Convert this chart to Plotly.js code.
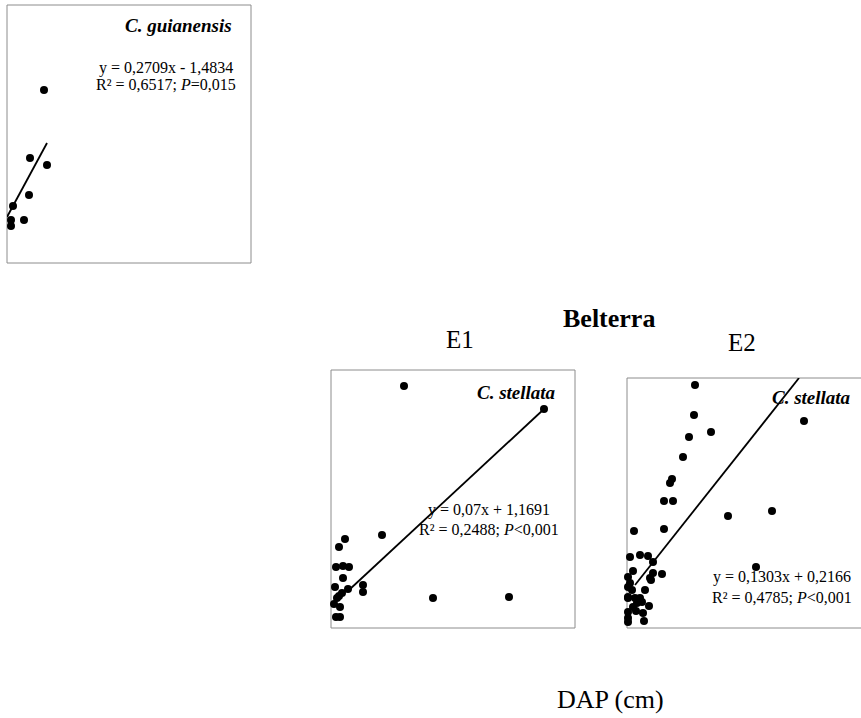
<!DOCTYPE html>
<html>
<head>
<meta charset="utf-8">
<script src="https://cdn.plot.ly/plotly-3.0.1.min.js"></script>
<style>html,body{margin:0;padding:0;background:#fff;}#chart{width:861px;height:718px;}</style>
</head>
<body>
<div id="chart"></div>
<script>
// Panel 1: C. guianensis (DAP cm vs response, arbitrary read units)
const guiX = [7.4, 4.6, 8.0, 4.4, 1.2, 3.4, 0.8, 0.8];
const guiY = [17.3, 10.5, 9.8, 6.8, 5.7, 4.3, 4.3, 3.7];
const guiTrendX = [0.0, 8.0];
const guiTrendY = [4.6, 12.0];

// Belterra E1: C. stellata
const e1X = [14.6, 42.6, 10.2, 2.8, 1.6, 1.0, 2.4, 3.6, 2.4, 6.4, 6.4, 0.8, 3.4, 2.2, 1.6, 1.2, 0.6, 1.8, 1.0, 1.8, 20.4, 35.6];
const e1Y = [24.2, 21.9, 9.3, 8.9, 8.1, 6.1, 6.2, 6.1, 5.0, 4.3, 3.6, 4.1, 3.9, 3.5, 3.2, 3.0, 2.4, 2.1, 1.1, 1.1, 3.0, 3.1];
const e1TrendX = [3.6, 42.6];
const e1TrendY = [3.8, 21.9];

// Belterra E2: C. stellata
const e2X = [13.6, 13.4, 16.8, 12.4, 35.4, 11.2, 9.0, 8.6, 7.4, 9.2, 7.4, 1.4, 20.2, 29.0, 25.8,
             0.6, 2.6, 4.2, 5.2, 7.0, 1.2, 5.2, 4.6, 4.8, 0.6, 0.2, 1.0, 3.6, 0.2, 1.6, 2.6, 3.0,
             0.2, 2.0, 4.4, 0.2, 1.8, 3.2, 0.2, 0.2, 3.4, 1.2, 0.2];
const e2Y = [24.3, 21.3, 19.6, 19.1, 20.7, 17.1, 14.9, 14.5, 12.7, 12.7, 9.9, 9.7, 11.2, 11.7, 6.1,
             7.1, 7.3, 7.2, 6.6, 5.4, 5.7, 5.5, 5.0, 4.8, 4.5, 4.1, 3.8, 3.8, 3.1, 3.0, 3.0, 2.6,
             3.0, 2.5, 2.2, 1.6, 1.7, 1.5, 1.0, 0.6, 0.7, 2.1, 5.1];
const e2TrendX = [1.6, 34.4];
const e2TrendY = [4.3, 25.0];

// Texts
const species1 = "C. guianensis";
const species2 = "C. stellata";
const eq1 = ["y = 0,2709x - 1,4834", "R² = 0,6517; <i>P</i>=0,015"];
const eqE1 = ["y = 0,07x + 1,1691", "R² = 0,2488; <i>P</i>&lt;0,001"];
const eqE2 = ["y = 0,1303x + 0,2166", "R² = 0,4785; <i>P</i>&lt;0,001"];
const siteTitle = "Belterra";
const panelLabels = ["E1", "E2"];
const xTitle = "DAP (cm)";

const W = 861, H = 718;
const px = v => v / W;
const py = v => 1 - v / H;
const FONT = "Liberation Serif, Times New Roman, serif";

const markerStyle = {color: "#000", size: 8};
const lineStyle = {color: "#000", width: 1.8};

const traces = [
  {x: guiX, y: guiY, mode: "markers", marker: markerStyle, xaxis: "x", yaxis: "y", cliponaxis: false},
  {x: guiTrendX, y: guiTrendY, mode: "lines", line: lineStyle, xaxis: "x", yaxis: "y"},
  {x: e1X, y: e1Y, mode: "markers", marker: markerStyle, xaxis: "x2", yaxis: "y2", cliponaxis: false},
  {x: e1TrendX, y: e1TrendY, mode: "lines", line: lineStyle, xaxis: "x2", yaxis: "y2"},
  {x: e2X, y: e2Y, mode: "markers", marker: markerStyle, xaxis: "x3", yaxis: "y3", cliponaxis: false},
  {x: e2TrendX, y: e2TrendY, mode: "lines", line: lineStyle, xaxis: "x3", yaxis: "y3"}
];

const hidden = {showline: false, showgrid: false, zeroline: false, showticklabels: false, ticks: ""};

function ann(text, x, y, xanchor, size, extra) {
  return Object.assign({text: text, x: px(x), y: py(y), xref: "paper", yref: "paper",
    xanchor: xanchor, yanchor: "middle", showarrow: false,
    font: {family: FONT, size: size, color: "#000"}}, extra || {});
}

const boxLine = {color: "#8c8c8c", width: 1};

const layout = {
  width: W, height: H,
  margin: {l: 0, r: 0, t: 0, b: 0},
  paper_bgcolor: "#fff", plot_bgcolor: "rgba(0,0,0,0)",
  showlegend: false,
  xaxis: Object.assign({domain: [px(7), px(251)], range: [0, 48.8]}, hidden),
  yaxis: Object.assign({domain: [py(263), py(5)], range: [0, 25.8]}, hidden),
  xaxis2: Object.assign({domain: [px(331), px(575)], range: [0, 48.8], anchor: "y2"}, hidden),
  yaxis2: Object.assign({domain: [py(628), py(370)], range: [0, 25.8], anchor: "x2"}, hidden),
  xaxis3: Object.assign({domain: [px(627), 1], range: [0, 46.8], anchor: "y3"}, hidden),
  yaxis3: Object.assign({domain: [py(628), py(378)], range: [0, 25.0], anchor: "x3"}, hidden),
  shapes: [
    {type: "rect", xref: "paper", yref: "paper", x0: px(7), x1: px(251), y0: py(263), y1: py(5), line: boxLine, layer: "below"},
    {type: "rect", xref: "paper", yref: "paper", x0: px(331), x1: px(575), y0: py(628), y1: py(370), line: boxLine, layer: "below"},
    {type: "rect", xref: "paper", yref: "paper", x0: px(627), x1: px(880), y0: py(628), y1: py(378), line: boxLine, layer: "below"}
  ],
  annotations: [
    ann("<b><i>" + species1 + "</i></b>", 234, 25, "right", 19),
    ann(eq1[0], 166, 68, "center", 16),
    ann(eq1[1], 166, 84, "center", 16),
    ann("<b>" + siteTitle + "</b>", 609, 318, "center", 26),
    ann(panelLabels[0], 460, 340, "center", 25),
    ann(panelLabels[1], 742, 342, "center", 25),
    ann("<b><i>" + species2 + "</i></b>", 558, 392, "right", 19),
    ann(eqE1[0], 489, 510, "center", 16),
    ann(eqE1[1], 489, 529, "center", 16),
    ann("<b><i>" + species2 + "</i></b>", 853, 398, "right", 19),
    ann(eqE2[0], 782, 577, "center", 16),
    ann(eqE2[1], 782, 597, "center", 16),
    ann(xTitle, 610, 699, "center", 26)
  ]
};

Plotly.newPlot("chart", traces, layout, {staticPlot: true, displayModeBar: false});
</script>
</body>
</html>
